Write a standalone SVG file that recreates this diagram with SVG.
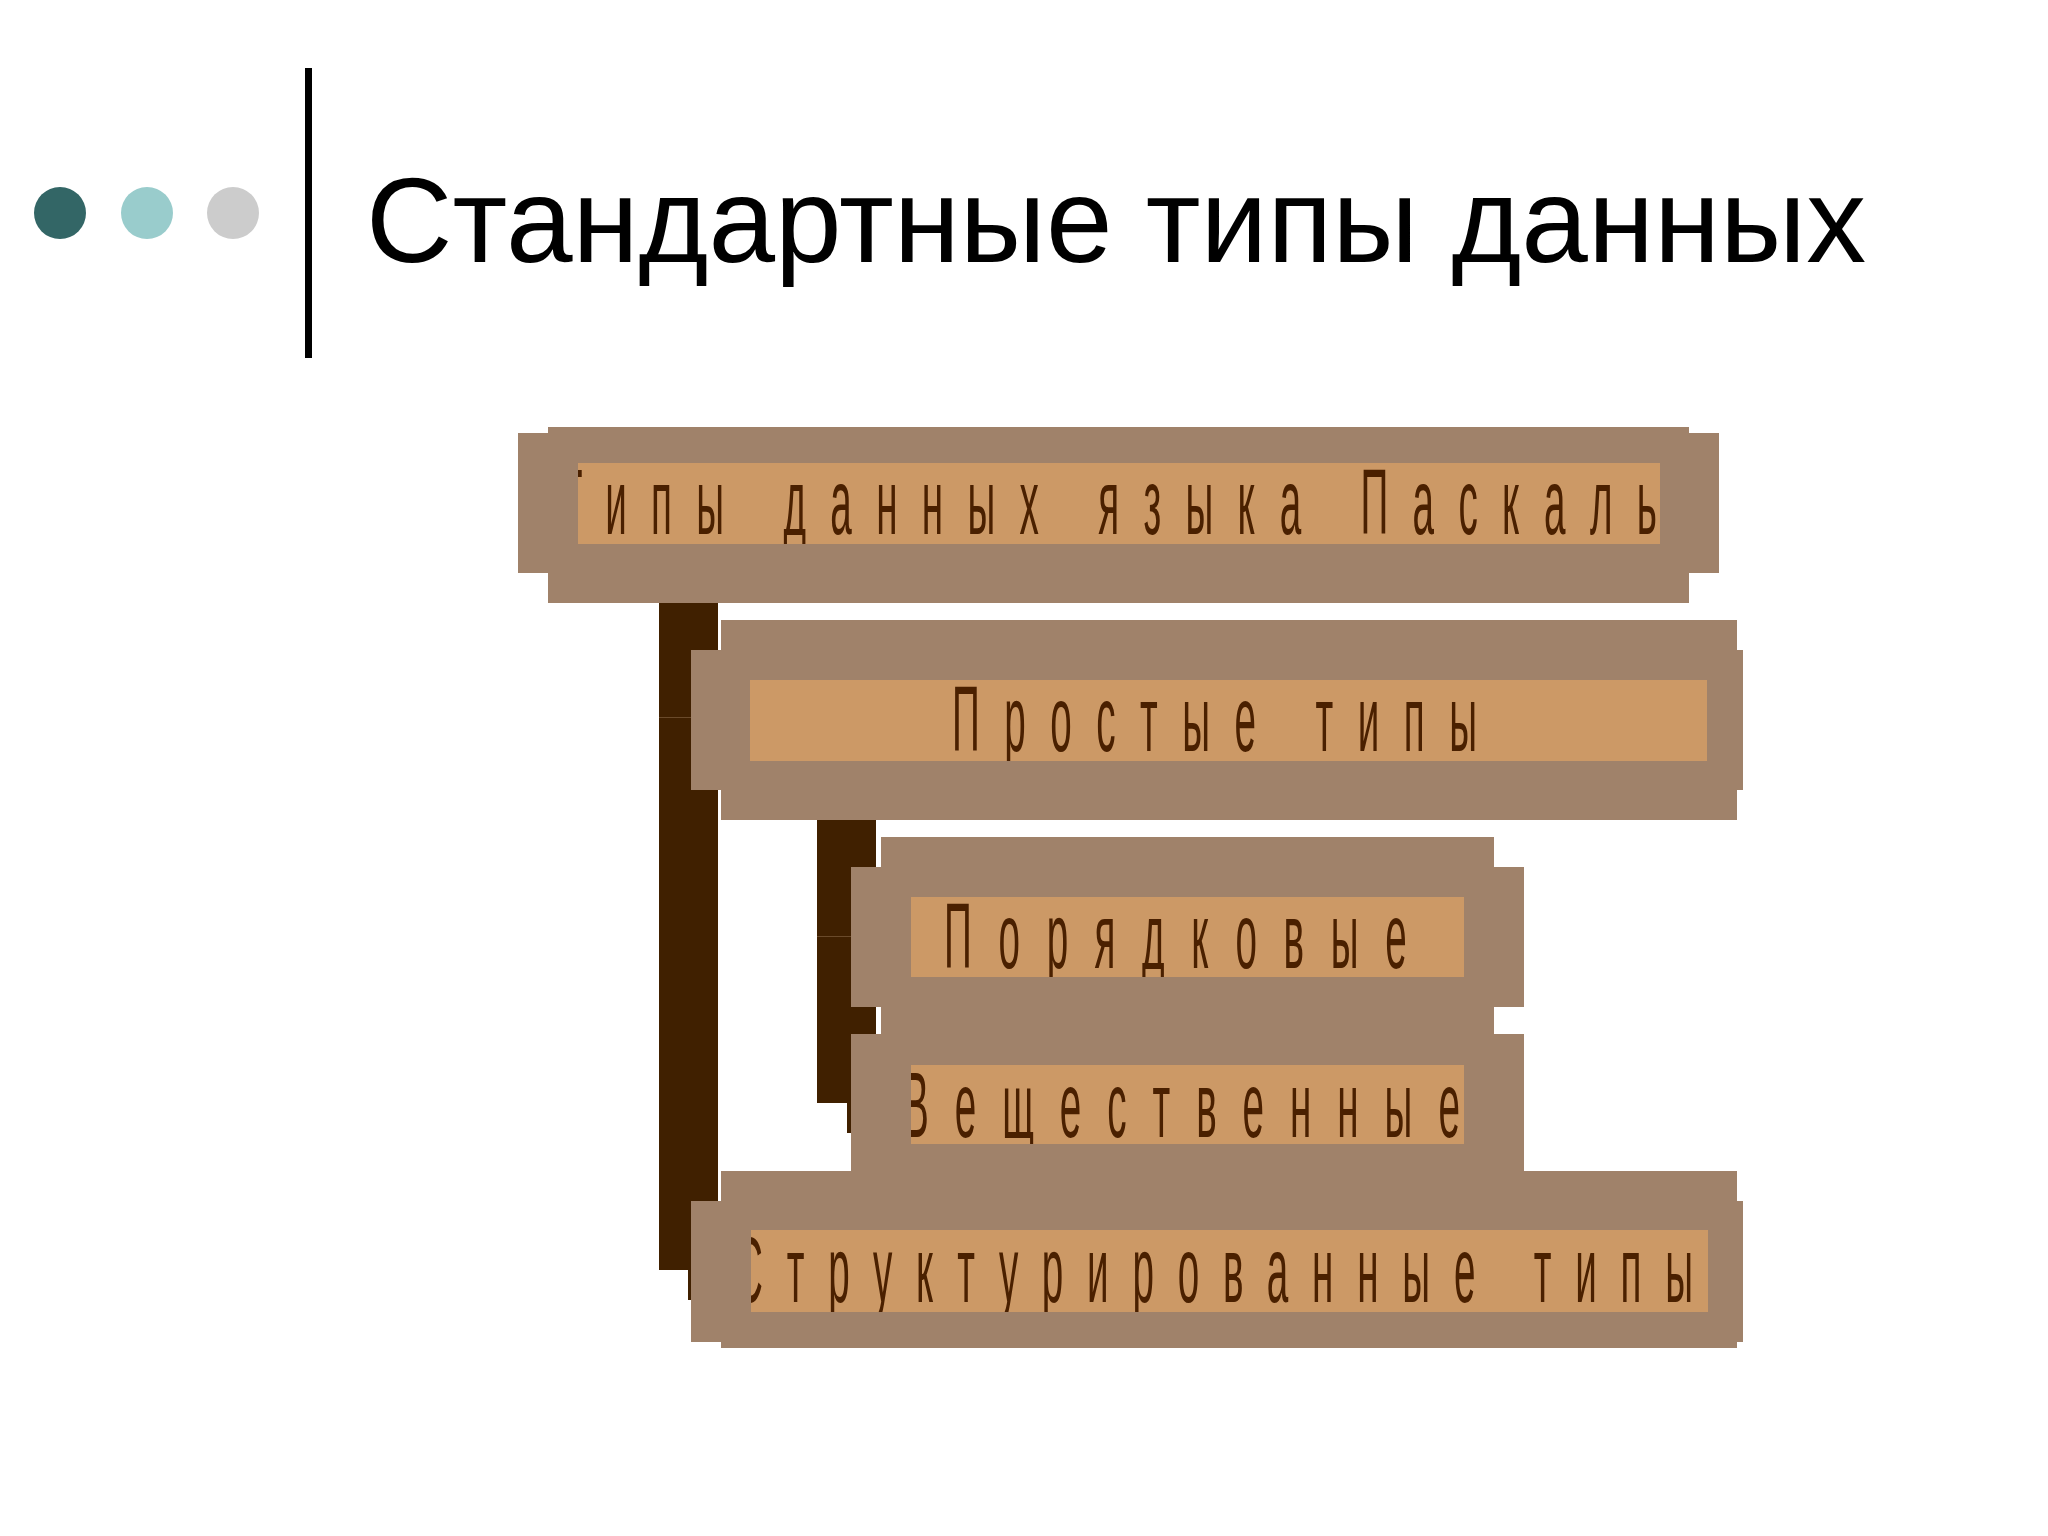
<svg xmlns="http://www.w3.org/2000/svg" width="2048" height="1536" viewBox="0 0 2048 1536">
<style>
.outer{fill:#A0826A}
.inner{fill:#CC9966}
.bar{fill:#402000}
.seam{fill:#6A4A2A}
.lbl{font-family:"Liberation Sans",Arial,sans-serif;font-size:92px;fill:#4A2000}
.title{font-family:"Liberation Sans",Arial,sans-serif;font-size:121px;fill:#000000}
</style>
<defs>
<clipPath id="c1"><rect x="578" y="463" width="1082" height="81"/></clipPath>
<clipPath id="c2"><rect x="750" y="680" width="957" height="81"/></clipPath>
<clipPath id="c3"><rect x="911" y="897" width="553" height="80"/></clipPath>
<clipPath id="c4"><rect x="911" y="1065" width="553" height="79"/></clipPath>
<clipPath id="c5"><rect x="751" y="1230" width="957" height="82"/></clipPath>
</defs>
<rect x="0" y="0" width="2048" height="1536" fill="#FFFFFF"/>

<g id="header">
<circle cx="60" cy="213" r="26" fill="#336666"/>
<circle cx="147" cy="213" r="26" fill="#99CCCC"/>
<circle cx="233" cy="213" r="26" fill="#CCCCCC"/>
<rect x="305" y="68" width="7" height="290" fill="#000000"/>
<text class="title" x="366" y="262" textLength="1500" lengthAdjust="spacingAndGlyphs">Стандартные типы данных</text>
</g>

<g id="connectors">
<rect class="bar" x="659" y="603" width="59" height="667"/>
<rect class="seam" x="659" y="717" width="32" height="1"/>
<rect class="bar" x="688" y="1270" width="4" height="30"/>
<rect class="bar" x="817" y="820" width="59" height="283"/>
<rect class="seam" x="817" y="936" width="34" height="1"/>
<rect class="bar" x="847" y="1103" width="4" height="30"/>
</g>

<g id="node-root">
<rect class="outer" x="548" y="427" width="1141" height="176"/>
<rect class="outer" x="518" y="433" width="1201" height="140"/>
<rect class="inner" x="578" y="463" width="1082" height="81"/>
<g clip-path="url(#c1)"><text class="lbl" transform="translate(559,534) scale(0.42,1)" x="0" y="0" textLength="2614" lengthAdjust="spacing">Типы данных языка Паскаль</text></g>
</g>

<g id="node-simple">
<rect class="outer" x="721" y="620" width="1016" height="200"/>
<rect class="outer" x="691" y="650" width="1052" height="140"/>
<rect class="inner" x="750" y="680" width="957" height="81"/>
<g clip-path="url(#c2)"><text class="lbl" transform="translate(952,751) scale(0.42,1)" x="0" y="0" textLength="1250" lengthAdjust="spacing">Простые типы</text></g>
</g>

<g id="node-ordinal">
<rect class="outer" x="881" y="837" width="613" height="200"/>
<rect class="outer" x="851" y="867" width="673" height="140"/>
<rect class="inner" x="911" y="897" width="553" height="80"/>
<g clip-path="url(#c3)"><text class="lbl" transform="translate(944,968) scale(0.42,1)" x="0" y="0" textLength="1102" lengthAdjust="spacing">Порядковые</text></g>
</g>

<g id="node-real">
<rect class="outer" x="881" y="1004" width="613" height="167"/>
<rect class="outer" x="851" y="1034" width="673" height="137"/>
<rect class="inner" x="911" y="1065" width="553" height="79"/>
<g clip-path="url(#c4)"><text class="lbl" transform="translate(903,1137) scale(0.42,1)" x="0" y="0" textLength="1326" lengthAdjust="spacing">Вещественные</text></g>
</g>

<g id="node-structured">
<rect class="outer" x="721" y="1171" width="1016" height="177"/>
<rect class="outer" x="691" y="1201" width="1052" height="141"/>
<rect class="inner" x="751" y="1230" width="957" height="82"/>
<g clip-path="url(#c5)"><text class="lbl" transform="translate(735,1302) scale(0.42,1)" x="0" y="0" textLength="2281" lengthAdjust="spacing">Структурированные типы</text></g>
</g>
</svg>
